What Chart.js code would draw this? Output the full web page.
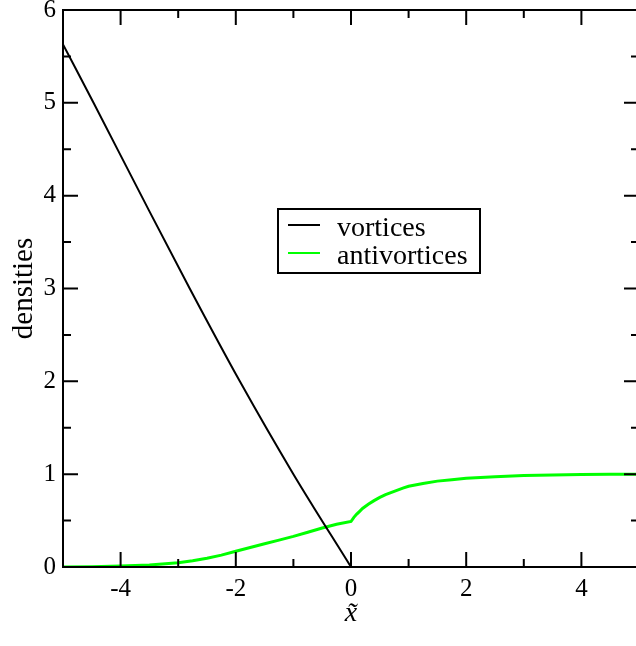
<!DOCTYPE html>
<html lang="en">
<head>
<meta charset="UTF-8">
<title>densities</title>
<script src="https://cdn.jsdelivr.net/npm/chart.js"></script>
<style>
  html, body { margin: 0; padding: 0; background: #fff; overflow: hidden; }
  #wrap { width: 646px; height: 646px; }
</style>
</head>
<body>
<div id="wrap"><canvas id="densChart" width="646" height="646"></canvas></div>
<script>
// vortex density
const vortexX = [-5, -4.47, -3.64, -2.80, -1.93, -1.0, 0];
const vortexY = [5.63, 5, 4, 3, 2, 1, 0];

// antivortex density (kink at x = 0)
const antiX = [-5, -4.5, -4, -3.5, -3, -2.75, -2.5, -2.25, -2, -1.75, -1.5, -1.25, -1, -0.75, -0.5, -0.25, 0,
               0.05, 0.1, 0.15, 0.2, 0.3, 0.4, 0.5, 0.6, 0.75, 0.9, 1, 1.25, 1.5, 1.75, 2, 2.5, 3, 3.5, 4, 4.5, 5];
const antiY = [0, 0.003, 0.01, 0.022, 0.045, 0.068, 0.095, 0.128, 0.17, 0.21, 0.25, 0.29, 0.33, 0.375, 0.42, 0.46, 0.49,
               0.535, 0.57, 0.6, 0.63, 0.675, 0.715, 0.75, 0.78, 0.815, 0.85, 0.87, 0.9, 0.925, 0.94, 0.955, 0.972, 0.985, 0.992, 0.996, 0.999, 1.0];

// tick values
const xMajor = [-4, -2, 0, 2, 4];
const xMinor = [-3, -1, 1, 3];
const yMajor = [0, 1, 2, 3, 4, 5, 6];
const yMinor = [0.5, 1.5, 2.5, 3.5, 4.5, 5.5];

const toPoints = (xs, ys) => xs.map((x, i) => ({ x: x, y: ys[i] }));

// ticks pointing inward on all four sides, plus the closed frame
const frameTicks = {
  id: 'frameTicks',
  afterDatasetsDraw(chart) {
    const { ctx, chartArea: a, scales: { x, y } } = chart;
    ctx.save();
    ctx.strokeStyle = '#000';
    ctx.lineWidth = 2;
    ctx.beginPath();
    const xt = (vals, len) => vals.forEach(v => {
      const px = x.getPixelForValue(v);
      ctx.moveTo(px, a.bottom); ctx.lineTo(px, a.bottom - len);
      ctx.moveTo(px, a.top); ctx.lineTo(px, a.top + len);
    });
    const yt = (vals, len) => vals.forEach(v => {
      const py = y.getPixelForValue(v);
      ctx.moveTo(a.left, py); ctx.lineTo(a.left + len, py);
      ctx.moveTo(a.right, py); ctx.lineTo(a.right - len, py);
    });
    xt(xMajor, 15); xt(xMinor, 8);
    yt(yMajor, 15); yt(yMinor, 8);
    ctx.stroke();
    ctx.strokeRect(a.left, a.top, a.right - a.left, a.bottom - a.top);
    ctx.restore();
  }
};

// boxed legend inside the plot
const boxLegend = {
  id: 'boxLegend',
  afterDraw(chart) {
    const ctx = chart.ctx;
    const bx = 278, by = 209, bw = 202, bh = 64;
    ctx.save();
    ctx.fillStyle = '#fff';
    ctx.fillRect(bx, by, bw, bh);
    ctx.strokeStyle = '#000';
    ctx.lineWidth = 2;
    ctx.strokeRect(bx, by, bw, bh);
    ctx.font = '28px "Liberation Serif"';
    ctx.textBaseline = 'alphabetic';
    chart.data.datasets.forEach((ds, i) => {
      const ly = by + 16 + i * 28;
      ctx.strokeStyle = ds.borderColor;
      ctx.lineWidth = 2;
      ctx.beginPath();
      ctx.moveTo(288, ly); ctx.lineTo(320, ly);
      ctx.stroke();
      ctx.fillStyle = '#000';
      ctx.fillText(ds.label, 337, ly + 11);
    });
    ctx.restore();
  }
};

const tickFont = { family: '"Liberation Serif"', size: 25 };

new Chart(document.getElementById('densChart'), {
  type: 'scatter',
  data: {
    datasets: [
      {
        label: 'vortices',
        data: toPoints(vortexX, vortexY),
        showLine: true,
        borderColor: '#000000',
        borderWidth: 2,
        pointRadius: 0,
        cubicInterpolationMode: 'monotone'
      },
      {
        label: 'antivortices',
        data: toPoints(antiX, antiY),
        showLine: true,
        borderColor: '#00ff00',
        borderWidth: 3,
        pointRadius: 0,
        tension: 0
      }
    ]
  },
  options: {
    responsive: false,
    animation: false,
    layout: { padding: { top: 10, right: 7, left: 0, bottom: 0 } },
    plugins: {
      legend: { display: false },
      tooltip: { enabled: false }
    },
    scales: {
      x: {
        type: 'linear',
        min: -5, max: 5,
        grid: { display: false, drawTicks: false },
        border: { display: true, color: '#000', width: 2 },
        ticks: { color: '#000', font: tickFont, padding: 7 },
        afterBuildTicks: s => { s.ticks = xMajor.map(v => ({ value: v })); },
        afterFit: s => { s.height = 79; s.paddingLeft = 0; s.paddingRight = 0; },
        title: {
          display: true,
          text: 'x\u0303',
          color: '#000',
          font: { family: '"Liberation Serif"', size: 28, style: 'italic' },
          padding: { top: 0, bottom: 16 }
        }
      },
      y: {
        type: 'linear',
        min: 0, max: 6,
        grid: { display: false, drawTicks: false },
        border: { display: true, color: '#000', width: 2 },
        ticks: { color: '#000', font: tickFont, padding: 7 },
        afterBuildTicks: s => { s.ticks = yMajor.map(v => ({ value: v })); },
        afterFit: s => { s.width = 63; s.paddingTop = 0; s.paddingBottom = 0; },
        title: {
          display: true,
          text: 'densities',
          color: '#000',
          font: { family: '"Liberation Serif"', size: 29 },
          padding: { top: 7, bottom: 0 }
        }
      }
    }
  },
  plugins: [frameTicks, boxLegend]
});
</script>
</body>
</html>
